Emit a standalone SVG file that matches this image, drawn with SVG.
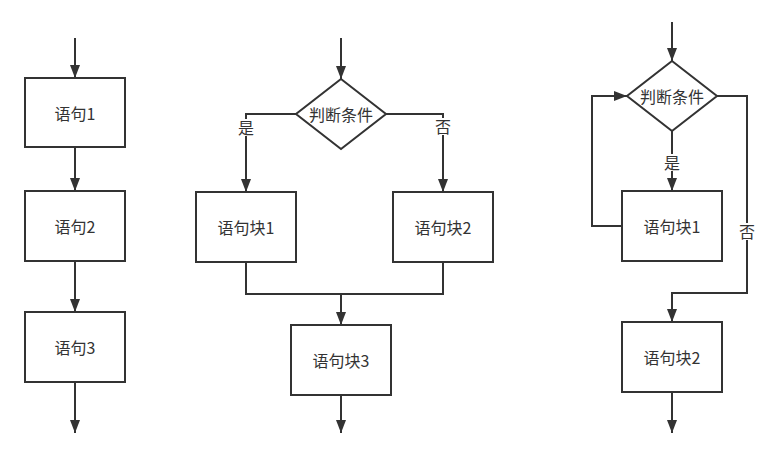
<svg xmlns="http://www.w3.org/2000/svg" width="772" height="455" viewBox="0 0 772 455">
<style>
.n{fill:#fff;stroke:#333;stroke-width:2}
.e{fill:none;stroke:#333;stroke-width:2;marker-end:url(#a)}
.l{fill:none;stroke:#333;stroke-width:2}
text{font-family:"Noto Sans CJK SC","Microsoft YaHei",sans-serif;font-size:16px;fill:#333;text-anchor:middle;dominant-baseline:central}
.bg{fill:#fff}
</style>
<defs>
<marker id="a" markerUnits="userSpaceOnUse" markerWidth="13" markerHeight="10" viewBox="0 0 13 10" refX="13" refY="5" orient="auto">
<path d="M0,0 L13,5 L0,10 z" fill="#333"/>
</marker>
</defs>
<g id="connectors">
<path class="e" d="M75,38 V78"/>
<path class="e" d="M75,147 V191"/>
<path class="e" d="M75,261 V312"/>
<path class="e" d="M75,382 V433"/>
<path class="e" d="M341,38 V79"/>
<path class="e" d="M296,114 H246 V192"/>
<path class="e" d="M386,114 H443 V192"/>
<path class="l" d="M246,262 V294 H443 V262"/>
<path class="e" d="M341,294 V325"/>
<path class="e" d="M341,395 V433"/>
<path class="e" d="M672,22 V61"/>
<path class="e" d="M672,131 V191"/>
<path class="e" d="M622,226 H592 V96 H627"/>
<path class="e" d="M717,96 H747 V293 H672 V322"/>
<path class="e" d="M672,392 V433"/>
<rect class="bg" x="238" y="119" width="16" height="17"/>
<text x="246" y="127">是</text>
<rect class="bg" x="435" y="118" width="16" height="17"/>
<text x="443" y="126">否</text>
<rect class="bg" x="664" y="154" width="16" height="17"/>
<text x="672" y="162">是</text>
<rect class="bg" x="739" y="223" width="16" height="17"/>
<text x="747" y="231">否</text>
</g>
<g id="s1"><rect class="n" x="25" y="78" width="100" height="69"/><text x="75" y="113">语句1</text></g>
<g id="s2"><rect class="n" x="25" y="191" width="100" height="70"/><text x="75" y="226">语句2</text></g>
<g id="s3"><rect class="n" x="25" y="312" width="100" height="70"/><text x="75" y="347">语句3</text></g>
<g id="d1"><path class="n" d="M341,79 L386,114 L341,149 L296,114 Z"/><text x="341" y="114">判断条件</text></g>
<g id="b1"><rect class="n" x="196" y="192" width="100" height="70"/><text x="246" y="227">语句块1</text></g>
<g id="b2"><rect class="n" x="393" y="192" width="100" height="70"/><text x="443" y="227">语句块2</text></g>
<g id="b3"><rect class="n" x="291" y="325" width="100" height="70"/><text x="341" y="360">语句块3</text></g>
<g id="d2"><path class="n" d="M672,61 L717,96 L672,131 L627,96 Z"/><text x="672" y="96">判断条件</text></g>
<g id="lb1"><rect class="n" x="622" y="191" width="100" height="70"/><text x="672" y="226">语句块1</text></g>
<g id="lb2"><rect class="n" x="622" y="322" width="100" height="70"/><text x="672" y="357">语句块2</text></g>
</svg>
